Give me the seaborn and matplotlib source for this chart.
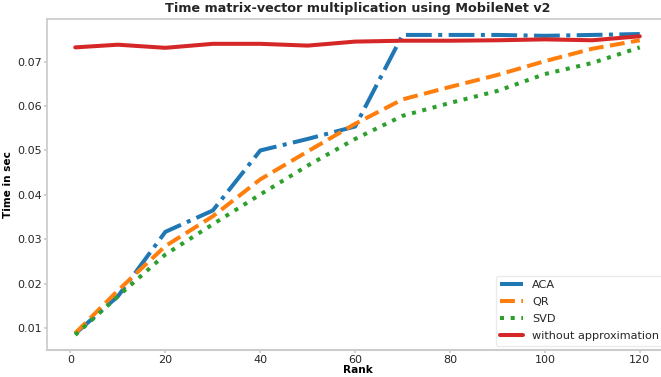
import matplotlib
matplotlib.use("Agg")
import matplotlib.pyplot as plt
import seaborn as sns
import pandas as pd

ranks = [1, 10, 20, 30, 40, 50, 60, 70, 80, 90, 100, 110, 120]
aca = [0.0088, 0.0172, 0.0317, 0.0365, 0.0500, 0.0526, 0.0554, 0.0760, 0.0760, 0.0760, 0.0758, 0.0760, 0.0762]
qr = [0.0089, 0.0185, 0.0285, 0.0352, 0.0435, 0.0498, 0.0560, 0.0615, 0.0643, 0.0670, 0.0701, 0.0729, 0.0748]
svd = [0.0085, 0.0172, 0.0266, 0.0334, 0.0401, 0.0466, 0.0526, 0.0578, 0.0607, 0.0634, 0.0672, 0.0697, 0.0732]
without = [0.0732, 0.0738, 0.0731, 0.0740, 0.0740, 0.0736, 0.0745, 0.0747, 0.0747, 0.0748, 0.0750, 0.0748, 0.0757]

series_names = ["ACA", "QR", "SVD", "without approximation"]
series_values = [aca, qr, svd, without]
colors = ["#1f77b4", "#ff7f0e", "#2ca02c", "#d62728"]
styles = ["-.", "--", ":", "-"]

sns.set_theme(style="whitegrid")
plt.rcParams["font.family"] = ["DejaVu Sans"]
plt.rcParams.update({
    "axes.grid": False,
    "axes.edgecolor": ".8",
    "xtick.bottom": True,
    "ytick.left": True,
    "xtick.major.size": 2,
    "ytick.major.size": 2,
    "xtick.major.pad": 1.5,
    "ytick.major.pad": 1.5,
    "xtick.color": ".8",
    "ytick.color": ".8",
    "xtick.labelcolor": ".15",
    "ytick.labelcolor": ".15",
})

fig = plt.figure(figsize=(6.61, 3.77), dpi=100)
ax = fig.add_axes([47 / 661, 1 - 350 / 377, (668 - 47) / 661, (350 - 19) / 377])

for name, vals, c, ls in zip(series_names, series_values, colors, styles):
    df = pd.DataFrame({"Rank": ranks, "Time": vals})
    sns.lineplot(data=df, x="Rank", y="Time", ax=ax, color=c, linestyle=ls,
                 linewidth=2.9, label=name)

ax.margins(x=0.05, y=0.05)
ax.spines["bottom"].set_linewidth(1.5)
ax.tick_params(labelsize=8)
ax.set_xlabel("Rank", fontsize=7.6, fontweight="bold", labelpad=0, color="black")
ax.set_ylabel("Time in sec", fontsize=7.6, fontweight="bold", labelpad=3, color="black")
ax.set_title("Time matrix-vector multiplication using MobileNet v2",
             fontsize=9.2, fontweight="bold", pad=5)
ax.set_xticks([0, 20, 40, 60, 80, 100, 120])
ax.set_yticks([0.01, 0.02, 0.03, 0.04, 0.05, 0.06, 0.07])
leg = ax.legend(loc="lower right", fontsize=8.1, frameon=True, labelspacing=0.62,
                borderaxespad=0.4)
leg.get_frame().set_edgecolor(".9")

fig.savefig("out.png", dpi=100)
